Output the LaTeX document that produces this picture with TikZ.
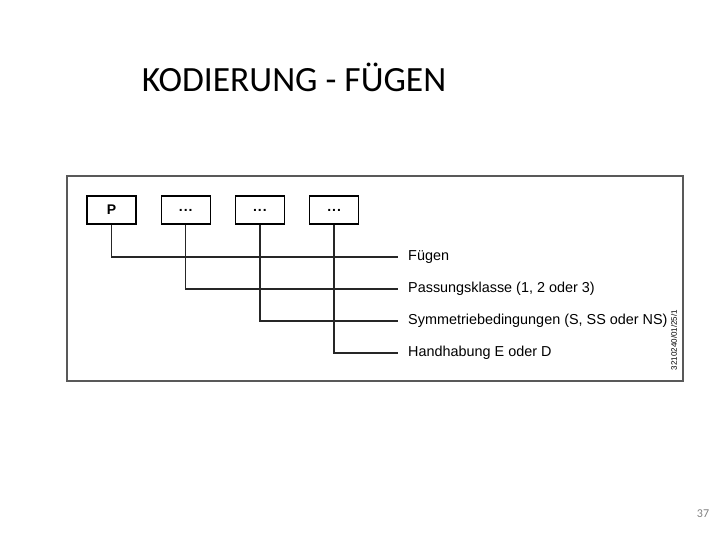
\documentclass[tikz,border=0pt]{standalone}
\usepackage{fontspec}
\setmainfont{Liberation Sans}
\newfontfamily\titlefont{Carlito}
\usetikzlibrary{positioning}
\tikzset{
  codebox/.style = {rectangle, draw=black, line width=1.2pt,
                    minimum width=49pt, minimum height=28pt, inner sep=0pt,
                    font=\fontsize{14}{16}\selectfont\bfseries},
  lbl/.style     = {anchor=west, inner xsep=10pt, inner ysep=0pt,
                    font=\fontsize{14.4}{16}\selectfont},
  link/.style    = {line width=1.3pt, draw=black!85},
}

\begin{document}
\begin{tikzpicture}[x=1pt, y=-1pt, node distance=24pt]
  \useasboundingbox (0,0) rectangle (720,540);

  \node[font=\titlefont\fontsize{35.5}{40}\selectfont] (title) at (294,77)
        {KODIERUNG - FÜGEN};

  % frame
  \draw[gray!70!black, line width=2.8pt, fill=white] (67,176) rectangle (683,381);

  \node[codebox] (p) at (111.5,210) {P};
  \node[codebox, right=of p]  (d1) {.\kern1pt.\kern1pt.};
  \node[codebox, right=of d1] (d2) {.\kern1pt.\kern1pt.};
  \node[codebox, right=of d2] (d3) {.\kern1pt.\kern1pt.};

  \node[lbl] (fuegen) at (398,257) {Fügen};
  \node[lbl] (pass)   at (398,289) {Passungsklasse (1, 2 oder 3)};
  \node[lbl] (symm)   at (398,321) {Symmetriebedingungen (S, SS oder NS)};
  \node[lbl] (hand)   at (398,353) {Handhabung E oder D};

  \draw[link] (p.south)  |- (fuegen.west);
  \draw[link] (d1.south) |- (pass.west);
  \draw[link] (d2.south) |- (symm.west);
  \draw[link] (d3.south) |- (hand.west);

  \node[rotate=90, font=\fontsize{8}{9}\selectfont] (code) at (674,340)
        {3210240/01/25/1};

  \node[font=\titlefont\fontsize{12}{14}\selectfont, text=gray] (page)
        at (703,514) {37};

\end{tikzpicture}
\end{document}
